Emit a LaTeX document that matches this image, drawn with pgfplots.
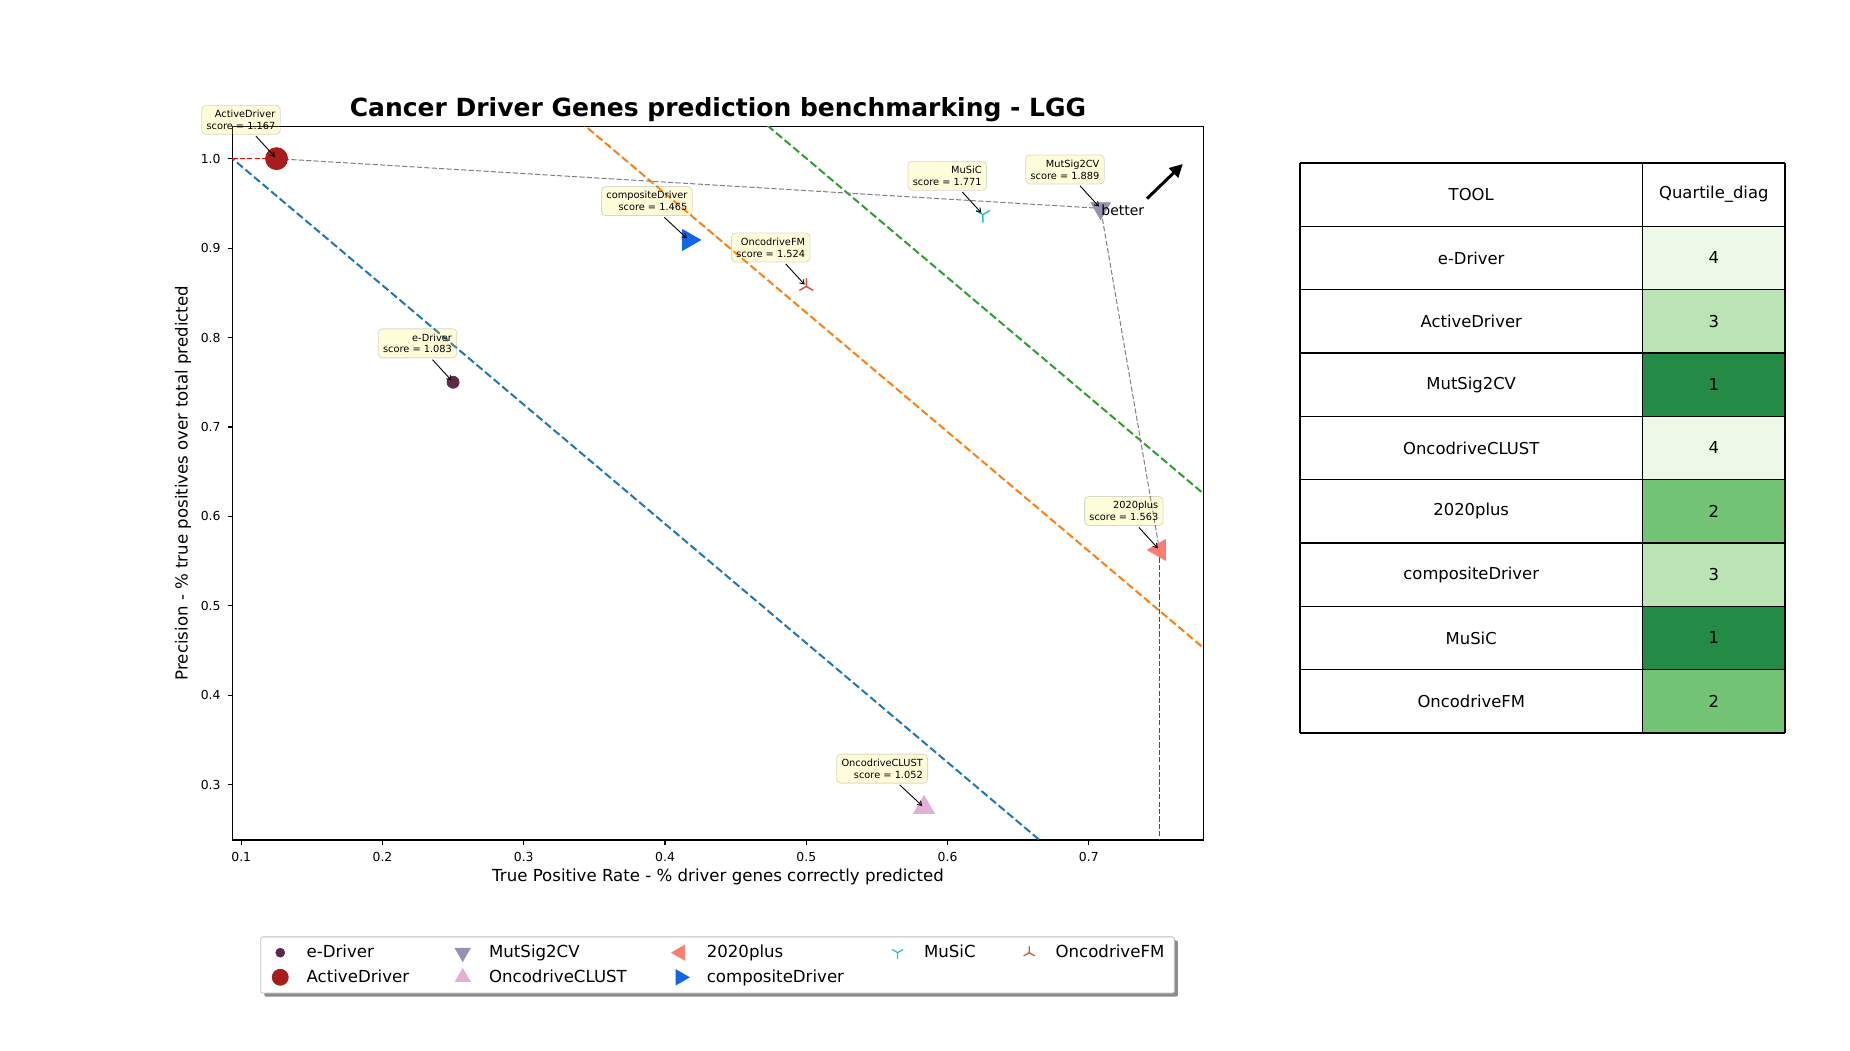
\documentclass[border=0pt]{standalone}
\usepackage{fontspec}
\setmainfont{DejaVu Sans}
\usepackage{pgfplots}
\pgfplotsset{compat=1.18}
\usetikzlibrary{arrows.meta,plotmarks,shadows}

\definecolor{cEdriver}{HTML}{5E2A4A}
\definecolor{cActive}{HTML}{A81C1C}
\definecolor{cMutSig}{HTML}{9890B0}
\definecolor{cClust}{HTML}{E3AED8}
\definecolor{cPlus}{HTML}{F87F70}
\definecolor{cComp}{HTML}{1065E8}
\definecolor{cMusic}{HTML}{20BFC8}
\definecolor{cFM}{HTML}{E04A2C}
\definecolor{tabblue}{HTML}{1F77B4}
\definecolor{taborange}{HTML}{FF7F0E}
\definecolor{tabgreen}{HTML}{2CA02C}
\definecolor{pgray}{HTML}{808080}
\definecolor{q1}{HTML}{238B45}
\definecolor{q2}{HTML}{74C476}
\definecolor{q3}{HTML}{BAE4B3}
\definecolor{q4}{HTML}{EDF8E9}

\tikzset{
  annot/.style={draw=black, draw opacity=0.15, fill=yellow, fill opacity=0.15, text opacity=1,
    rounded corners=2pt, inner sep=2.4pt, align=right, anchor=south east,
    font=\fontsize{4.9}{5.9}\selectfont},
  annarrow/.style={-{Straight Barb[length=2pt,width=2.6pt]}, line width=0.45pt, shorten <=1pt, shorten >=1.2pt},
}

\begin{document}
\begin{tikzpicture}[x=1pt,y=1pt]
\path (0,0) rectangle (925,525);
\begin{axis}[
  at={(116.2pt,105pt)}, anchor=south west,
  scale only axis, width=485.6pt, height=356.9pt,
  xmin=0.09375, xmax=0.78125, ymin=0.2382, ymax=1.0363,
  xtick={0.1,0.2,0.3,0.4,0.5,0.6,0.7},
  ytick={0.3,0.4,0.5,0.6,0.7,0.8,0.9,1.0},
  /pgf/number format/.cd, fixed, fixed zerofill, precision=1, assume math mode=true,
  /pgfplots/.cd,
  ticklabel style={font=\fontsize{6.2}{7}\selectfont},
  tick align=outside, major tick length=2.4pt, tick pos=left,
  axis line style={line width=0.55pt}, tick style={line width=0.55pt, black},
  clip mode=individual,
  xlabel={True Positive Rate - \% driver genes correctly predicted},
  ylabel={Precision - \% true positives over total predicted},
  label style={font=\fontsize{8.3}{10}\selectfont},
  xlabel style={at={(axis description cs:0.5,-0.0518)}, anchor=center},
  ylabel style={at={(axis description cs:-0.0509,0.5)}, anchor=center},
  legend columns=5,
  legend cell align=left,
  legend image code/.code={%
    \node[draw=none, fill=none, inner sep=0pt, minimum width=18pt, minimum height=1pt, anchor=west] at (0pt,0pt) {};
    \draw[#1] plot coordinates {(7pt,0pt)};},
  legend style={at={(0.4995,-0.1751)}, anchor=center,
    font=\fontsize{8.3}{10}\selectfont, draw=black!25, rounded corners=1pt,
    fill=white, drop shadow={shadow xshift=1.8pt, shadow yshift=-1.8pt, fill=black!45, opacity=1},
    /tikz/every even column/.append style={column sep=18pt},
    row sep=0.5pt},
]
% quartile diagonal lines (x/0.75 + y = c)
\addplot[forget plot, tabblue, line width=1pt, dash pattern=on 3.9pt off 1.7pt] coordinates {(0,1.125) (0.9,-0.075)};
\addplot[forget plot, taborange, line width=1pt, dash pattern=on 3.9pt off 1.7pt] coordinates {(0,1.4945) (0.9,0.2945)};
\addplot[forget plot, tabgreen, line width=1pt, dash pattern=on 3.9pt off 1.7pt] coordinates {(0,1.667) (0.9,0.467)};
% pareto frontier
\addplot[forget plot, pgray, line width=0.5pt, dash pattern=on 2.6pt off 1.1pt] coordinates {(0.125,1.0) (0.70833,0.94444) (0.75,0.5625)};
\addplot[forget plot, red, line width=0.55pt, dash pattern=on 2.6pt off 1.1pt] coordinates {(0.09375,1.0) (0.125,1.0)};
\addplot[forget plot, red, line width=0.55pt, dash pattern=on 2.6pt off 1.1pt] coordinates {(0.75,0.5625) (0.75,0.2382)};
% tools
\addplot[forget plot, only marks, mark=*, mark size=3pt, color=cEdriver] coordinates {(0.25,0.75)};
\addplot[forget plot, only marks, mark=*, mark size=5.5pt, color=cActive] coordinates {(0.125,1.0)};
\addplot[forget plot, only marks, mark=triangle*, mark size=5.6pt, color=cMutSig, mark options={rotate=180}] coordinates {(0.70833,0.94444)};
\addplot[forget plot, only marks, mark=triangle*, mark size=6pt, color=cClust] coordinates {(0.58333,0.27451)};
\addplot[forget plot, only marks, mark=triangle*, mark size=6pt, color=cPlus, mark options={rotate=90}] coordinates {(0.75,0.5625)};
\addplot[forget plot, only marks, mark=triangle*, mark size=6pt, color=cComp, mark options={rotate=-90}] coordinates {(0.41667,0.90909)};
\addplot[forget plot, only marks, mark=Mercedes star flipped, mark size=4pt, color=cMusic, mark options={line width=0.7pt}] coordinates {(0.625,0.9375)};
\addplot[forget plot, only marks, mark=Mercedes star, mark size=4pt, color=cFM, mark options={line width=0.7pt}] coordinates {(0.5,0.85714)};

% legend (row-wise order to mimic column-wise filling)
\addlegendimage{only marks, mark=*, mark size=2.2pt, color=cEdriver}
\addlegendentry{e-Driver}
\addlegendimage{only marks, mark=triangle*, mark size=4.3pt, color=cMutSig, mark options={rotate=180}}
\addlegendentry{MutSig2CV}
\addlegendimage{only marks, mark=triangle*, mark size=4.3pt, color=cPlus, mark options={rotate=90}}
\addlegendentry{2020plus}
\addlegendimage{only marks, mark=Mercedes star flipped, mark size=3.2pt, color=cMusic, mark options={line width=0.6pt}}
\addlegendentry{MuSiC}
\addlegendimage{only marks, mark=Mercedes star, mark size=3.2pt, color=cFM, mark options={line width=0.6pt}}
\addlegendentry{OncodriveFM}
\addlegendimage{only marks, mark=*, mark size=4pt, color=cActive}
\addlegendentry{ActiveDriver}
\addlegendimage{only marks, mark=triangle*, mark size=4.3pt, color=cClust}
\addlegendentry{OncodriveCLUST}
\addlegendimage{only marks, mark=triangle*, mark size=4.3pt, color=cComp, mark options={rotate=-90}}
\addlegendentry{compositeDriver}

% annotations
\node[annot] (a1) at ([shift={(2pt,12pt)}]axis cs:0.25,0.75) {e-Driver\\score = 1.083};
\draw[annarrow] (a1) -- (axis cs:0.25,0.75);
\node[annot] (a2) at ([shift={(2pt,12pt)}]axis cs:0.125,1.0) {ActiveDriver\\score = 1.167};
\draw[annarrow] (a2) -- (axis cs:0.125,1.0);
\node[annot] (a3) at ([shift={(2pt,12pt)}]axis cs:0.70833,0.94444) {MutSig2CV\\score = 1.889};
\draw[annarrow] (a3) -- (axis cs:0.70833,0.94444);
\node[annot] (a4) at ([shift={(2pt,12pt)}]axis cs:0.58333,0.27451) {OncodriveCLUST\\score = 1.052};
\draw[annarrow] (a4) -- (axis cs:0.58333,0.27451);
\node[annot] (a5) at ([shift={(2pt,12pt)}]axis cs:0.75,0.5625) {2020plus\\score = 1.563};
\draw[annarrow] (a5) -- (axis cs:0.75,0.5625);
\node[annot] (a6) at ([shift={(2pt,12pt)}]axis cs:0.41667,0.90909) {compositeDriver\\score = 1.465};
\draw[annarrow] (a6) -- (axis cs:0.41667,0.90909);
\node[annot] (a7) at ([shift={(2pt,12pt)}]axis cs:0.625,0.9375) {MuSiC\\score = 1.771};
\draw[annarrow] (a7) -- (axis cs:0.625,0.9375);
\node[annot] (a8) at ([shift={(2pt,12pt)}]axis cs:0.5,0.85714) {OncodriveFM\\score = 1.524};
\draw[annarrow] (a8) -- (axis cs:0.5,0.85714);

% better arrow
\node[anchor=base west, inner sep=0pt, font=\fontsize{7}{8}\selectfont] at (axis cs:0.7086,0.9363) {better};
\draw[-{Triangle[length=6.5pt,width=6.5pt]}, line width=1.5pt] (axis cs:0.7412,0.9553) -- (axis cs:0.7665,0.994);
\end{axis}

% title
\node[anchor=base, font=\bfseries\fontsize{12.5}{14}\selectfont] at (359,466.6) {Cancer Driver Genes prediction benchmarking - LGG};

% table
\def\rh{31.667}
\node[font=\fontsize{8.2}{10}\selectfont] at (735.6,{443.5-0.5*\rh}) {TOOL};
\node[font=\fontsize{8.2}{10}\selectfont] at (856.9,{443.5-0.5*\rh}) {Quartile\_diag};
\foreach \name/\q [count=\i] in {e-Driver/4, ActiveDriver/3, MutSig2CV/1, OncodriveCLUST/4, 2020plus/2, compositeDriver/3, MuSiC/1, OncodriveFM/2} {
  \fill[q\q] (821.25,{443.5-\i*\rh}) rectangle (892.5,{443.5-(\i+1)*\rh});
  \node[font=\fontsize{8.2}{10}\selectfont] at (735.6,{443.5-(\i+0.5)*\rh}) {\name};
  \node[font=\fontsize{8.2}{10}\selectfont] at (856.9,{443.5-(\i+0.5)*\rh}) {\q};
}
\foreach \i in {0,...,9} {
  \draw[line width=0.55pt] (650,{443.5-\i*\rh}) -- (892.5,{443.5-\i*\rh});
}
\draw[line width=0.55pt] (650,443.5) -- (650,158.5);
\draw[line width=0.55pt] (821.25,443.5) -- (821.25,158.5);
\draw[line width=0.55pt] (892.5,443.5) -- (892.5,158.5);
\end{tikzpicture}
\end{document}
